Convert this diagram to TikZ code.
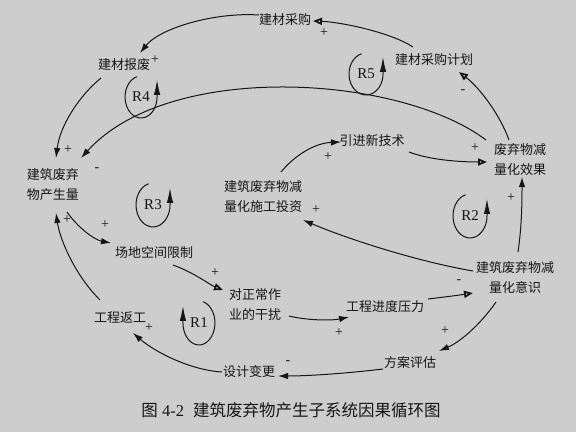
\documentclass[tikz,border=0pt]{standalone}
\usepackage{fontspec}
\setmainfont{Liberation Serif}
\newfontfamily\cjkfont{Noto Sans CJK SC}
\usetikzlibrary{arrows.meta,calc}
\definecolor{bgc}{RGB}{205,205,205}
\definecolor{ink}{RGB}{22,22,22}
\begin{document}
\begin{tikzpicture}[x=1pt,y=-1pt,
  var/.style={font=\cjkfont\fontsize{13}{20}\selectfont, text=ink, align=center, inner sep=0pt},
  lnk/.style={draw=ink, line width=1pt, -{Latex[length=10pt,width=6.5pt]}},
  olnk/.style={draw=ink, line width=1pt, -{Triangle[open,length=9pt,width=7pt,line width=1.8pt]}},
  sgn/.style={font=\fontsize{14}{14}\selectfont, text=ink, inner sep=0pt},
  loopl/.style={font=\fontsize{15}{15}\selectfont, text=ink, inner sep=0pt},
  loopa/.style={draw=ink, line width=1pt, -{Latex[length=15pt,width=6.5pt]}}]
\fill[bgc] (0,0) rectangle (576,432);
\useasboundingbox (0,0) rectangle (576,432);

% variables
\node[var] (caigou) at (285,20) {建材采购};
\node[var] (jihua) at (434,60) {建材采购计划};
\node[var] (baofei) at (124,65) {建材报废};
\node[var] (chansheng) at (53,185) {建筑废弃\\物产生量};
\node[var] (yinjin) at (372,141) {引进新技术};
\node[var] (xiaoguo) at (520,160) {废弃物减\\量化效果};
\node[var] (touzi) at (263,197) {建筑废弃物减\\量化施工投资};
\node[var] (yishi) at (515,278) {建筑废弃物减\\量化意识};
\node[var] (changdi) at (154,253) {场地空间限制};
\node[var] (ganrao) at (255,305) {对正常作\\业的干扰};
\node[var] (fangong) at (120,318) {工程返工};
\node[var] (yali) at (385,307) {工程进度压力};
\node[var] (pinggu) at (410,363) {方案评估};
\node[var] (biangeng) at (249,372) {设计变更};

% connectors
\draw[olnk] ($(jihua)+(-21,-13)$) .. controls (390,32) and (340,22) .. ($(caigou)+(28,1)$);
\draw[lnk] ($(caigou)+(-26,-5)$) .. controls (215,12) and (160,28) .. ($(baofei)+(16,-12)$);
\draw[lnk] ($(baofei)+(-23,13)$) .. controls (80,95) and (60,125) .. ($(chansheng)+(3,-27)$);
\draw[lnk] ($(xiaoguo)+(-34,-20)$) .. controls (400,75) and (170,60) .. ($(chansheng)+(28,-27)$);
\draw[olnk] ($(xiaoguo)+(-11,-20)$) .. controls (500,115) and (480,88) .. ($(jihua)+(25,12)$);
\draw[lnk] ($(touzi)+(18,-25)$) .. controls (295,155) and (315,143) .. ($(yinjin)+(-31,1)$);
\draw[olnk] ($(yinjin)+(37,11)$) .. controls (430,160) and (460,162) .. ($(xiaoguo)+(-33,2)$);
\draw[lnk] ($(yishi)+(-42,-7)$) .. controls (420,262) and (350,240) .. ($(touzi)+(40,23)$);
\draw[lnk] ($(yishi)+(3,-26)$) .. controls (522,225) and (522,200) .. ($(xiaoguo)+(2,17)$);
\draw[lnk] ($(chansheng)+(14,27)$) .. controls (78,228) and (95,240) .. ($(changdi)+(-43,-10)$);
\draw[lnk] ($(fangong)+(-20,-18)$) .. controls (75,275) and (60,240) .. ($(chansheng)+(3,28)$);
\draw[olnk] ($(changdi)+(19,12)$) .. controls (195,273) and (210,285) .. ($(ganrao)+(-32,-15)$);
\draw[lnk] ($(ganrao)+(34,11)$) .. controls (305,320) and (330,321) .. ($(yali)+(-36,10)$);
\draw[olnk] ($(yali)+(43,-8)$) .. controls (445,297) and (460,295) .. ($(yishi)+(-42,15)$);
\draw[lnk] ($(yishi)+(-19,24)$) .. controls (480,325) and (460,342) .. ($(pinggu)+(29,-12)$);
\draw[lnk] ($(pinggu)+(-27,6)$) .. controls (350,373) and (310,376) .. ($(biangeng)+(29,4)$);
\draw[lnk] ($(biangeng)+(-27,0)$) .. controls (190,370) and (155,352) .. ($(fangong)+(13,15)$);

% polarity signs
\node[sgn] (p1) at (324,33) {+};
\node[sgn] (p2) at (155,60) {+};
\node[sgn] (p3) at (68,150) {+};
\node[sgn] (m1) at (97,170) {-};
\node[sgn] (m2) at (463,92) {-};
\node[sgn] (p4) at (328,157) {+};
\node[sgn] (p5) at (475,148) {+};
\node[sgn] (p6) at (316,210) {+};
\node[sgn] (p7) at (511,198) {+};
\node[sgn] (p8) at (105,225) {+};
\node[sgn] (p9) at (67,220) {+};
\node[sgn] (p10) at (215,273) {+};
\node[sgn] (p11) at (339,333) {+};
\node[sgn] (m3) at (459,282) {-};
\node[sgn] (p12) at (445,331) {+};
\node[sgn] (m4) at (288,363) {-};
\node[sgn] (p13) at (149,328) {+};

% loops
\node[loopl] (r4) at (141,97) {R4};
\draw[loopa] ($(r4)+(-4.1,-20.3)$) arc[start angle=255, end angle=0, x radius=16, y radius=21] -- ++(0,-17);
\node[loopl] (r5) at (366,74) {R5};
\draw[loopa] ($(r5)+(-4.4,-20.3)$) arc[start angle=255, end angle=0, x radius=17, y radius=21] -- ++(0,-17);
\node[loopl] (r3) at (153,205) {R3};
\draw[loopa] ($(r3)+(-4.4,-21.3)$) arc[start angle=255, end angle=0, x radius=17, y radius=22] -- ++(0,-17);
\node[loopl] (r2) at (470,216) {R2};
\draw[loopa] ($(r2)+(-4.4,-21.3)$) arc[start angle=255, end angle=0, x radius=17, y radius=22] -- ++(0,-17);
\node[loopl] (r1) at (199,323) {R1};
\draw[loopa] ($(r1)+(4.1,-21.3)$) arc[start angle=285, end angle=540, x radius=16, y radius=22] -- ++(0,-17);

% caption
\node[font=\fontsize{16.5}{18}\selectfont, text=ink, inner sep=0pt] (cap) at (291,410)
  {{\cjkfont 图} 4-2\hspace{9pt}{\cjkfont 建筑废弃物产生子系统因果循环图}};
\end{tikzpicture}
\end{document}
